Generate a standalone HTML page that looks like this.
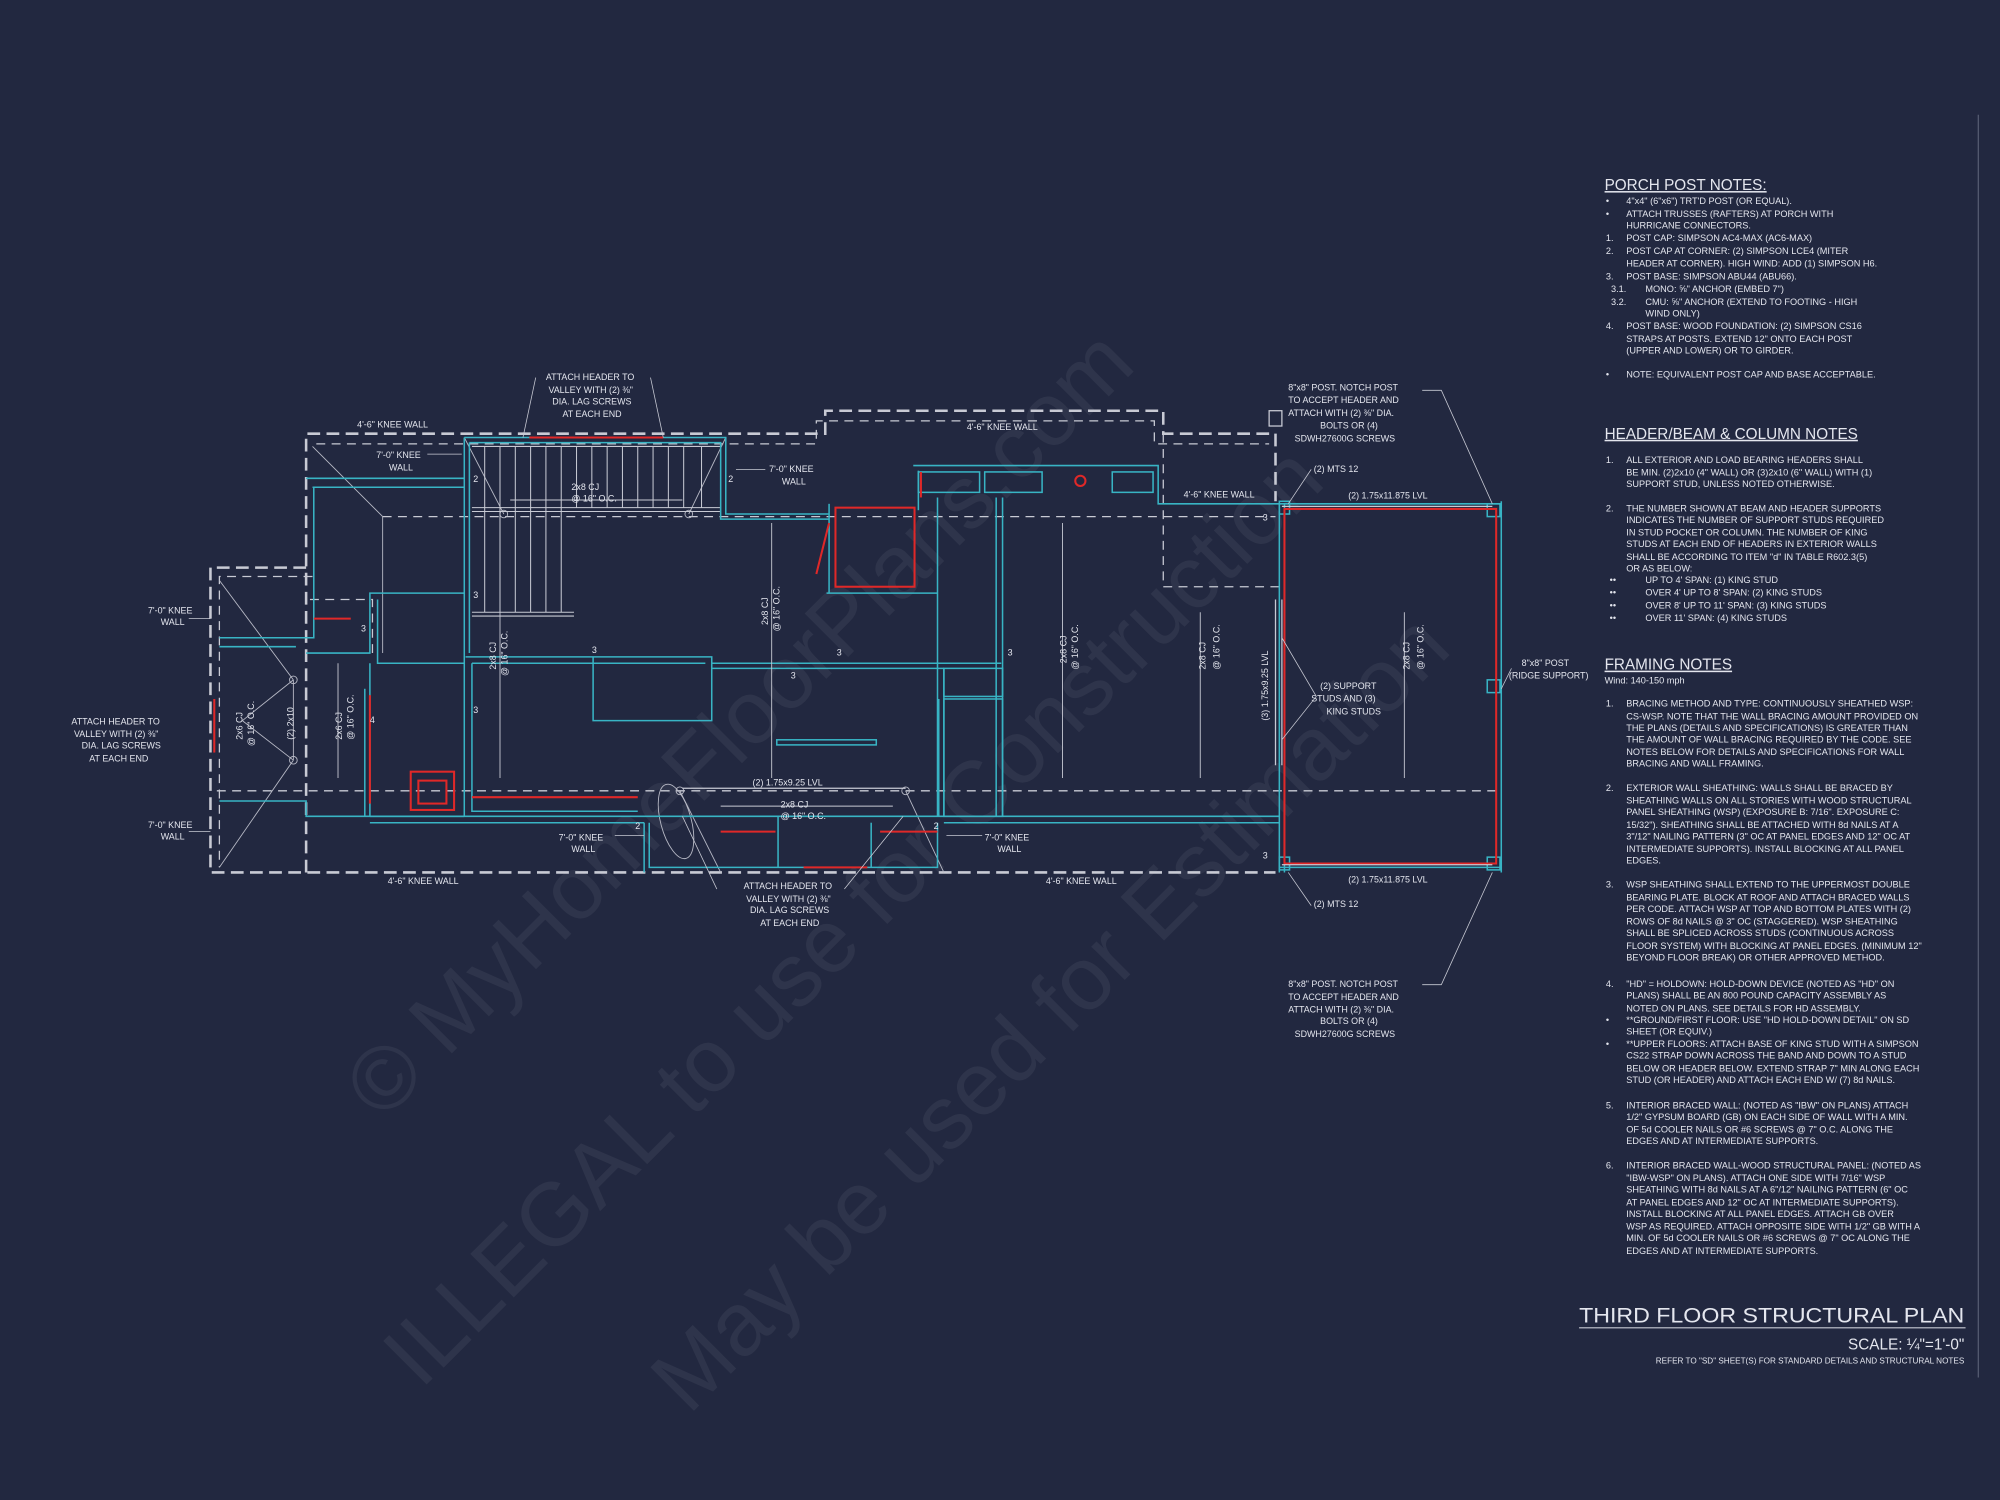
<!DOCTYPE html>
<html><head><meta charset="utf-8"><style>
html,body{margin:0;padding:0;background:#222840;}
svg{display:block}
text{font-family:"Liberation Sans",sans-serif;fill:#e4e6ee;}
.n text{font-size:7.2px}
</style></head><body>
<svg width="2000" height="1500" viewBox="0 0 1568 1176" xmlns="http://www.w3.org/2000/svg">
<rect width="1568" height="1176" fill="#222840"/>
<!-- watermark -->
<g opacity="0.055" style="font-family:'Liberation Serif',serif">
<text x="0" y="0" transform="translate(300,880) rotate(-45)" style="font-size:70px;fill:#fff">© MyHomeFloorPlans.com</text>
<text x="0" y="0" transform="translate(330,1090) rotate(-45)" style="font-size:70px;fill:#fff">ILLEGAL to use for Construction</text>
<text x="0" y="0" transform="translate(540,1110) rotate(-45)" style="font-size:70px;fill:#fff">May be used for Estimation</text>
</g>
<line x1="1551" y1="90" x2="1551" y2="1080" stroke="#555b70" stroke-width="1"/>

<g fill="none" stroke="#c8cad4" stroke-width="2" stroke-dasharray="10,5">
<polyline points="240,684 240,340 647,340 647,322 912,322 912,340 1000,340"/>
<polyline points="240,445 165,445 165,684 1000,684"/>
<line x1="1000" y1="340" x2="1000" y2="393"/>
</g>
<g fill="none" stroke="#c8cad4" stroke-width="1" stroke-dasharray="7,5">
<polyline points="248,348 640,348 640,330 905,330 905,348 995,348"/>
<line x1="300" y1="405" x2="1000" y2="405"/>
<line x1="170" y1="620" x2="1177" y2="620"/>
<polyline points="912,340 912,460 1003,460"/>
<polyline points="245,452 172,452 172,680"/>
<polyline points="292,512 292,470 240,470"/>
</g>
<g stroke="#b8bac6" stroke-width="0.7" fill="none">
<line x1="245" y1="350" x2="300" y2="405"/>
<line x1="300" y1="405" x2="300" y2="512"/>
<line x1="172" y1="455" x2="230" y2="533"/>
<line x1="230" y1="533" x2="230" y2="596"/>
<line x1="230" y1="596" x2="172" y2="680"/>
<line x1="230" y1="533" x2="190" y2="565"/><line x1="230" y1="596" x2="190" y2="565"/>
<line x1="395" y1="403" x2="364" y2="343"/><line x1="540" y1="403" x2="569" y2="343"/>
<line x1="533" y1="620" x2="565" y2="684"/><line x1="710" y1="620" x2="740" y2="684"/>
<ellipse cx="530" cy="644" rx="12" ry="30" transform="rotate(-15 530 644)"/>
<circle cx="395" cy="403" r="3"/><circle cx="540" cy="403" r="3"/>
<circle cx="533" cy="620" r="3"/><circle cx="710" cy="620" r="3"/>
<circle cx="230" cy="533" r="3"/><circle cx="230" cy="596" r="3"/>
</g>
<g stroke="#c8cad4" stroke-width="0.8">
<line x1="370" y1="350" x2="565" y2="350"/>
<line x1="370" y1="398" x2="565" y2="398"/>
<line x1="370" y1="401" x2="565" y2="401"/>
<line x1="370" y1="480" x2="450" y2="480"/><line x1="370" y1="483" x2="450" y2="483"/>
<line x1="380" y1="350" x2="380" y2="480"/><line x1="392" y1="350" x2="392" y2="480"/>
<line x1="404" y1="350" x2="404" y2="480"/><line x1="416" y1="350" x2="416" y2="480"/>
<line x1="428" y1="350" x2="428" y2="480"/><line x1="440" y1="350" x2="440" y2="480"/>
<line x1="452" y1="350" x2="452" y2="398"/><line x1="464" y1="350" x2="464" y2="398"/>
<line x1="476" y1="350" x2="476" y2="398"/><line x1="488" y1="350" x2="488" y2="398"/>
<line x1="500" y1="350" x2="500" y2="398"/><line x1="512" y1="350" x2="512" y2="398"/>
<line x1="524" y1="350" x2="524" y2="398"/><line x1="536" y1="350" x2="536" y2="398"/>
<line x1="550" y1="350" x2="550" y2="398"/>
</g>
<g fill="none" stroke="#38b4c4" stroke-width="1.2">
<polyline points="364,343 569,343 569,403 650,403"/>
<polyline points="368,347 565,347 565,407 650,407"/>
<line x1="364" y1="343" x2="364" y2="640"/><line x1="368" y1="347" x2="368" y2="512"/>
<polyline points="240,375 364,375"/><polyline points="245,382 364,382"/>
<polyline points="246,382 246,500 240,500"/>
<polyline points="240,512 290,512 290,465 364,465"/>
<polyline points="296,470 296,520 364,520"/>
<polyline points="172,500 240,500"/><polyline points="172,507 232,507"/>
<polyline points="172,628 240,628 240,640 364,640"/>
<polyline points="290,520 290,640"/><polyline points="286,540 286,640"/>
<polyline points="365,515 558,515 558,565 465,565 465,515"/>
<polyline points="370,520 553,520"/>
<polyline points="370,520 370,636 500,636"/>
<polyline points="558,520 785,520"/><polyline points="558,524 740,524"/>
<polyline points="740,524 740,640"/><polyline points="736,548 736,640"/>
<rect x="740" y="524" width="46" height="22"/><rect x="740" y="548" width="46" height="92"/>
<polyline points="716,365 908,365 908,395 1003,395"/>
<polyline points="720,369 720,400"/>
<rect x="720" y="370" width="48" height="16"/><rect x="772" y="370" width="45" height="16"/>
<rect x="872" y="370" width="32" height="16"/>
<line x1="786" y1="390" x2="786" y2="640"/><line x1="781" y1="390" x2="781" y2="640"/>
<line x1="650" y1="395" x2="650" y2="465"/><line x1="648" y1="465" x2="735" y2="465"/>
<line x1="735" y1="390" x2="735" y2="640"/>
<line x1="290" y1="640" x2="1003" y2="640"/><line x1="290" y1="645" x2="505" y2="645"/>
<line x1="740" y1="645" x2="1003" y2="645"/>
<polyline points="505,645 505,684"/><polyline points="509,645 509,680 735,680 735,645"/>
<line x1="610" y1="640" x2="610" y2="680"/><line x1="683" y1="645" x2="683" y2="680"/>
<rect x="609" y="580" width="78" height="4"/>
<line x1="1003" y1="395" x2="1003" y2="684"/><line x1="1007" y1="395" x2="1007" y2="684"/>
<line x1="1003" y1="395" x2="1177" y2="395"/><line x1="1003" y1="680" x2="1177" y2="680"/>
<line x1="1177" y1="393" x2="1177" y2="684"/>
<rect x="1166" y="395" width="10" height="10"/><rect x="1166" y="672" width="10" height="10"/>
<rect x="1166" y="533" width="10" height="10"/>
<rect x="1003" y="393" width="8" height="10"/><rect x="1003" y="672" width="8" height="10"/>
</g>
<g fill="none" stroke="#e02828" stroke-width="1.6">
<line x1="415" y1="343" x2="520" y2="343"/>
<rect x="1007" y="399" width="166" height="278"/>
<rect x="655" y="398" width="62" height="62"/>
<line x1="650" y1="410" x2="640" y2="450"/>
<rect x="322" y="605" width="34" height="30"/><rect x="328" y="612" width="22" height="18"/>
<line x1="370" y1="625" x2="500" y2="625"/>
<line x1="290" y1="545" x2="290" y2="630"/>
<line x1="168" y1="548" x2="168" y2="590"/>
<line x1="246" y1="485" x2="275" y2="485"/>
<line x1="630" y1="680" x2="680" y2="680"/>
<line x1="565" y1="652" x2="608" y2="652"/><line x1="690" y1="652" x2="735" y2="652"/>
<line x1="722" y1="370" x2="722" y2="390"/>
<circle cx="847" cy="377" r="4"/>
</g>
<g fill="none" stroke="#c8cad4" stroke-width="1">
<rect x="995" y="322" width="10" height="12"/>
<line x1="1000" y1="470" x2="1000" y2="600"/><line x1="1005" y1="470" x2="1005" y2="600"/>
<line x1="1005" y1="397" x2="1170" y2="397"/><line x1="1005" y1="678" x2="1170" y2="678"/>
<line x1="535" y1="618" x2="710" y2="618"/>
</g>
<g stroke="#c8cad4" stroke-width="0.7">
<line x1="392" y1="410" x2="392" y2="610"/><line x1="605" y1="410" x2="605" y2="610"/>
<line x1="833" y1="410" x2="833" y2="610"/><line x1="941" y1="480" x2="941" y2="610"/>
<line x1="1101" y1="480" x2="1101" y2="610"/><line x1="265" y1="520" x2="265" y2="610"/>
<line x1="400" y1="392" x2="535" y2="392"/><line x1="565" y1="632" x2="700" y2="632"/>
</g>
<g style="font-size:7px">
<text x="280" y="335">4'-6" KNEE WALL</text>
<text x="758" y="337">4'-6" KNEE WALL</text>
<text x="928" y="390">4'-6" KNEE WALL</text>
<text x="304" y="693">4'-6" KNEE WALL</text>
<text x="820" y="693">4'-6" KNEE WALL</text>
<text x="295" y="359">7'-0" KNEE</text><text x="305" y="369">WALL</text>
<text x="603" y="370">7'-0" KNEE</text><text x="613" y="380">WALL</text>
<text x="116" y="481">7'-0" KNEE</text><text x="126" y="490">WALL</text>
<text x="116" y="649">7'-0" KNEE</text><text x="126" y="658">WALL</text>
<text x="438" y="659">7'-0" KNEE</text><text x="448" y="668">WALL</text>
<text x="772" y="659">7'-0" KNEE</text><text x="782" y="668">WALL</text>
<text x="428" y="298">ATTACH HEADER TO</text><text x="430" y="308">VALLEY WITH (2) ⅜"</text>
<text x="433" y="317">DIA. LAG SCREWS</text><text x="441" y="327">AT EACH END</text>
<text x="583" y="697">ATTACH HEADER TO</text><text x="585" y="707">VALLEY WITH (2) ⅜"</text>
<text x="588" y="716">DIA. LAG SCREWS</text><text x="596" y="726">AT EACH END</text>
<text x="56" y="568">ATTACH HEADER TO</text><text x="58" y="578">VALLEY WITH (2) ⅜"</text>
<text x="64" y="587">DIA. LAG SCREWS</text><text x="70" y="597">AT EACH END</text>
<text x="1010" y="306">8"x8" POST. NOTCH POST</text><text x="1010" y="316">TO ACCEPT HEADER AND</text>
<text x="1010" y="326">ATTACH WITH (2) ⅜" DIA.</text><text x="1035" y="336">BOLTS OR (4)</text>
<text x="1015" y="346">SDWH27600G SCREWS</text>
<text x="1010" y="774">8"x8" POST. NOTCH POST</text><text x="1010" y="784">TO ACCEPT HEADER AND</text>
<text x="1010" y="794">ATTACH WITH (2) ⅜" DIA.</text><text x="1035" y="803">BOLTS OR (4)</text>
<text x="1015" y="813">SDWH27600G SCREWS</text>
<text x="1030" y="370">(2) MTS 12</text><text x="1030" y="711">(2) MTS 12</text>
<text x="1057" y="391">(2) 1.75x11.875 LVL</text><text x="1057" y="692">(2) 1.75x11.875 LVL</text>
<text x="1193" y="522">8"x8" POST</text><text x="1183" y="532">(RIDGE SUPPORT)</text>
<text x="1035" y="540">(2) SUPPORT</text><text x="1028" y="550">STUDS AND (3)</text><text x="1040" y="560">KING STUDS</text>
<text x="590" y="616">(2) 1.75x9.25 LVL</text>
<text x="448" y="384">2x8 CJ</text><text x="448" y="393">@ 16" O.C.</text>
<text x="612" y="633">2x8 CJ</text><text x="612" y="642">@ 16" O.C.</text>
<text x="371" y="378">2</text><text x="571" y="378">2</text><text x="371" y="469">3</text>
<text x="283" y="495">3</text><text x="464" y="512">3</text><text x="371" y="559">3</text>
<text x="656" y="514">3</text><text x="620" y="532">3</text><text x="790" y="514">3</text>
<text x="290" y="567">4</text><text x="498" y="650">2</text><text x="732" y="650">2</text>
<text x="990" y="408">3</text><text x="990" y="673">3</text>
</g>
<g style="font-size:7px">
<text transform="translate(389,525) rotate(-90)">2x8 CJ</text><text transform="translate(398,530) rotate(-90)">@ 16" O.C.</text>
<text transform="translate(602,490) rotate(-90)">2x8 CJ</text><text transform="translate(611,495) rotate(-90)">@ 16" O.C.</text>
<text transform="translate(836,520) rotate(-90)">2x8 CJ</text><text transform="translate(845,525) rotate(-90)">@ 16" O.C.</text>
<text transform="translate(945,525) rotate(-90)">2x8 CJ</text><text transform="translate(956,525) rotate(-90)">@ 16" O.C.</text>
<text transform="translate(1105,525) rotate(-90)">2x8 CJ</text><text transform="translate(1116,525) rotate(-90)">@ 16" O.C.</text>
<text transform="translate(268,580) rotate(-90)">2x6 CJ</text><text transform="translate(277,580) rotate(-90)">@ 16" O.C.</text>
<text transform="translate(190,580) rotate(-90)">2x6 CJ</text><text transform="translate(199,585) rotate(-90)">@ 16" O.C.</text>
<text transform="translate(230,580) rotate(-90)">(2) 2x10</text>
<text transform="translate(994,565) rotate(-90)">(3) 1.75x9.25 LVL</text>
</g>
<g stroke="#c8cad4" stroke-width="0.6" fill="none">
<polyline points="420,296 410,343"/><polyline points="510,296 520,343"/>
<polyline points="1115,306 1130,306 1170,395"/><polyline points="1115,772 1130,772 1170,684"/>
<polyline points="1028,368 1010,395"/><polyline points="1028,710 1010,684"/>
<polyline points="1032,546 1005,500"/><polyline points="1032,546 1005,580"/>
<polyline points="1185,524 1177,540"/>
<polyline points="562,697 535,640"/><polyline points="662,697 708,640"/>
<line x1="335" y1="356" x2="362" y2="356"/><line x1="577" y1="368" x2="600" y2="368"/>
<line x1="148" y1="485" x2="165" y2="485"/><line x1="148" y1="652" x2="165" y2="652"/>
<line x1="482" y1="655" x2="505" y2="655"/><line x1="742" y1="655" x2="770" y2="655"/>
</g>

<g class="n">
<text x="1258" y="149" style="font-size:12px;text-decoration:underline">PORCH POST NOTES:</text>
<text x="1259" y="160">•</text><text x="1275" y="160">4"x4" (6"x6") TRT'D POST (OR EQUAL).</text>
<text x="1259" y="170">•</text><text x="1275" y="170">ATTACH TRUSSES (RAFTERS) AT PORCH WITH</text>
<text x="1275" y="179">HURRICANE CONNECTORS.</text>
<text x="1259" y="189">1.</text><text x="1275" y="189">POST CAP: SIMPSON AC4-MAX (AC6-MAX)</text>
<text x="1259" y="199">2.</text><text x="1275" y="199">POST CAP AT CORNER: (2) SIMPSON LCE4 (MITER</text>
<text x="1275" y="209">HEADER AT CORNER). HIGH WIND: ADD (1) SIMPSON H6.</text>
<text x="1259" y="219">3.</text><text x="1275" y="219">POST BASE: SIMPSON ABU44 (ABU66).</text>
<text x="1263" y="229">3.1.</text><text x="1290" y="229">MONO: ⅝" ANCHOR (EMBED 7")</text>
<text x="1263" y="239">3.2.</text><text x="1290" y="239">CMU: ⅝" ANCHOR (EXTEND TO FOOTING - HIGH</text>
<text x="1290" y="248">WIND ONLY)</text>
<text x="1259" y="258">4.</text><text x="1275" y="258">POST BASE: WOOD FOUNDATION: (2) SIMPSON CS16</text>
<text x="1275" y="268">STRAPS AT POSTS. EXTEND 12" ONTO EACH POST</text>
<text x="1275" y="277">(UPPER AND LOWER) OR TO GIRDER.</text>
<text x="1259" y="296">•</text><text x="1275" y="296">NOTE: EQUIVALENT POST CAP AND BASE ACCEPTABLE.</text>

<text x="1258" y="344" style="font-size:12px;text-decoration:underline">HEADER/BEAM &amp; COLUMN NOTES</text>
<text x="1259" y="363">1.</text><text x="1275" y="363">ALL EXTERIOR AND LOAD BEARING HEADERS SHALL</text>
<text x="1275" y="373">BE MIN. (2)2x10 (4" WALL) OR (3)2x10 (6" WALL) WITH (1)</text>
<text x="1275" y="382">SUPPORT STUD, UNLESS NOTED OTHERWISE.</text>
<text x="1259" y="401">2.</text><text x="1275" y="401">THE NUMBER SHOWN AT BEAM AND HEADER SUPPORTS</text>
<text x="1275" y="410">INDICATES THE NUMBER OF SUPPORT STUDS REQUIRED</text>
<text x="1275" y="420">IN STUD POCKET OR COLUMN. THE NUMBER OF KING</text>
<text x="1275" y="429">STUDS AT EACH END OF HEADERS IN EXTERIOR WALLS</text>
<text x="1275" y="439">SHALL BE ACCORDING TO ITEM "d" IN TABLE R602.3(5)</text>
<text x="1275" y="448">OR AS BELOW:</text>
<text x="1262" y="457">••</text><text x="1290" y="457">UP TO 4' SPAN: (1) KING STUD</text>
<text x="1262" y="467">••</text><text x="1290" y="467">OVER 4' UP TO 8' SPAN: (2) KING STUDS</text>
<text x="1262" y="477">••</text><text x="1290" y="477">OVER 8' UP TO 11' SPAN: (3) KING STUDS</text>
<text x="1262" y="487">••</text><text x="1290" y="487">OVER 11' SPAN: (4) KING STUDS</text>

<text x="1258" y="525" style="font-size:12px;text-decoration:underline">FRAMING NOTES</text>
<text x="1258" y="536">Wind: 140-150 mph</text>
<text x="1259" y="554">1.</text><text x="1275" y="554">BRACING METHOD AND TYPE: CONTINUOUSLY SHEATHED WSP:</text>
<text x="1275" y="564">CS-WSP. NOTE THAT THE WALL BRACING AMOUNT PROVIDED ON</text>
<text x="1275" y="573">THE PLANS (DETAILS AND SPECIFICATIONS) IS GREATER THAN</text>
<text x="1275" y="582">THE AMOUNT OF WALL BRACING REQUIRED BY THE CODE. SEE</text>
<text x="1275" y="592">NOTES BELOW FOR DETAILS AND SPECIFICATIONS FOR WALL</text>
<text x="1275" y="601">BRACING AND WALL FRAMING.</text>
<text x="1259" y="620">2.</text><text x="1275" y="620">EXTERIOR WALL SHEATHING: WALLS SHALL BE BRACED BY</text>
<text x="1275" y="630">SHEATHING WALLS ON ALL STORIES WITH WOOD STRUCTURAL</text>
<text x="1275" y="639">PANEL SHEATHING (WSP) (EXPOSURE B: 7/16". EXPOSURE C:</text>
<text x="1275" y="649">15/32"). SHEATHING SHALL BE ATTACHED WITH 8d NAILS AT A</text>
<text x="1275" y="658">3"/12" NAILING PATTERN (3" OC AT PANEL EDGES AND 12" OC AT</text>
<text x="1275" y="668">INTERMEDIATE SUPPORTS). INSTALL BLOCKING AT ALL PANEL</text>
<text x="1275" y="677">EDGES.</text>
<text x="1259" y="696">3.</text><text x="1275" y="696">WSP SHEATHING SHALL EXTEND TO THE UPPERMOST DOUBLE</text>
<text x="1275" y="706">BEARING PLATE. BLOCK AT ROOF AND ATTACH BRACED WALLS</text>
<text x="1275" y="715">PER CODE. ATTACH WSP AT TOP AND BOTTOM PLATES WITH (2)</text>
<text x="1275" y="725">ROWS OF 8d NAILS @ 3" OC (STAGGERED). WSP SHEATHING</text>
<text x="1275" y="734">SHALL BE SPLICED ACROSS STUDS (CONTINUOUS ACROSS</text>
<text x="1275" y="744">FLOOR SYSTEM) WITH BLOCKING AT PANEL EDGES. (MINIMUM 12"</text>
<text x="1275" y="753">BEYOND FLOOR BREAK) OR OTHER APPROVED METHOD.</text>
<text x="1259" y="774">4.</text><text x="1275" y="774">"HD" = HOLDOWN: HOLD-DOWN DEVICE (NOTED AS "HD" ON</text>
<text x="1275" y="783">PLANS) SHALL BE AN 800 POUND CAPACITY ASSEMBLY AS</text>
<text x="1275" y="793">NOTED ON PLANS. SEE DETAILS FOR HD ASSEMBLY.</text>
<text x="1259" y="802">•</text><text x="1275" y="802">**GROUND/FIRST FLOOR: USE "HD HOLD-DOWN DETAIL" ON SD</text>
<text x="1275" y="811">SHEET (OR EQUIV.)</text>
<text x="1259" y="821">•</text><text x="1275" y="821">**UPPER FLOORS: ATTACH BASE OF KING STUD WITH A SIMPSON</text>
<text x="1275" y="830">CS22 STRAP DOWN ACROSS THE BAND AND DOWN TO A STUD</text>
<text x="1275" y="840">BELOW OR HEADER BELOW. EXTEND STRAP 7" MIN ALONG EACH</text>
<text x="1275" y="849">STUD (OR HEADER) AND ATTACH EACH END W/ (7) 8d NAILS.</text>
<text x="1259" y="869">5.</text><text x="1275" y="869">INTERIOR BRACED WALL: (NOTED AS "IBW" ON PLANS) ATTACH</text>
<text x="1275" y="878">1/2" GYPSUM BOARD (GB) ON EACH SIDE OF WALL WITH A MIN.</text>
<text x="1275" y="888">OF 5d COOLER NAILS OR #6 SCREWS @ 7" O.C. ALONG THE</text>
<text x="1275" y="897">EDGES AND AT INTERMEDIATE SUPPORTS.</text>
<text x="1259" y="916">6.</text><text x="1275" y="916">INTERIOR BRACED WALL-WOOD STRUCTURAL PANEL: (NOTED AS</text>
<text x="1275" y="926">"IBW-WSP" ON PLANS). ATTACH ONE SIDE WITH 7/16" WSP</text>
<text x="1275" y="935">SHEATHING WITH 8d NAILS AT A 6"/12" NAILING PATTERN (6" OC</text>
<text x="1275" y="945">AT PANEL EDGES AND 12" OC AT INTERMEDIATE SUPPORTS).</text>
<text x="1275" y="954">INSTALL BLOCKING AT ALL PANEL EDGES. ATTACH GB OVER</text>
<text x="1275" y="964">WSP AS REQUIRED. ATTACH OPPOSITE SIDE WITH 1/2" GB WITH A</text>
<text x="1275" y="973">MIN. OF 5d COOLER NAILS OR #6 SCREWS @ 7" OC ALONG THE</text>
<text x="1275" y="983">EDGES AND AT INTERMEDIATE SUPPORTS.</text>
</g>
<text x="1540" y="1037" text-anchor="end" style="font-size:17px" textLength="302" lengthAdjust="spacingAndGlyphs">THIRD FLOOR STRUCTURAL PLAN</text>
<line x1="1238" y1="1041" x2="1541" y2="1041" stroke="#c8cad4" stroke-width="0.8"/>
<text x="1540" y="1058" text-anchor="end" style="font-size:12px">SCALE: ¼"=1'-0"</text>
<text x="1540" y="1069" text-anchor="end" style="font-size:6.4px">REFER TO "SD" SHEET(S) FOR STANDARD DETAILS AND STRUCTURAL NOTES</text>
</svg>
</body></html>
